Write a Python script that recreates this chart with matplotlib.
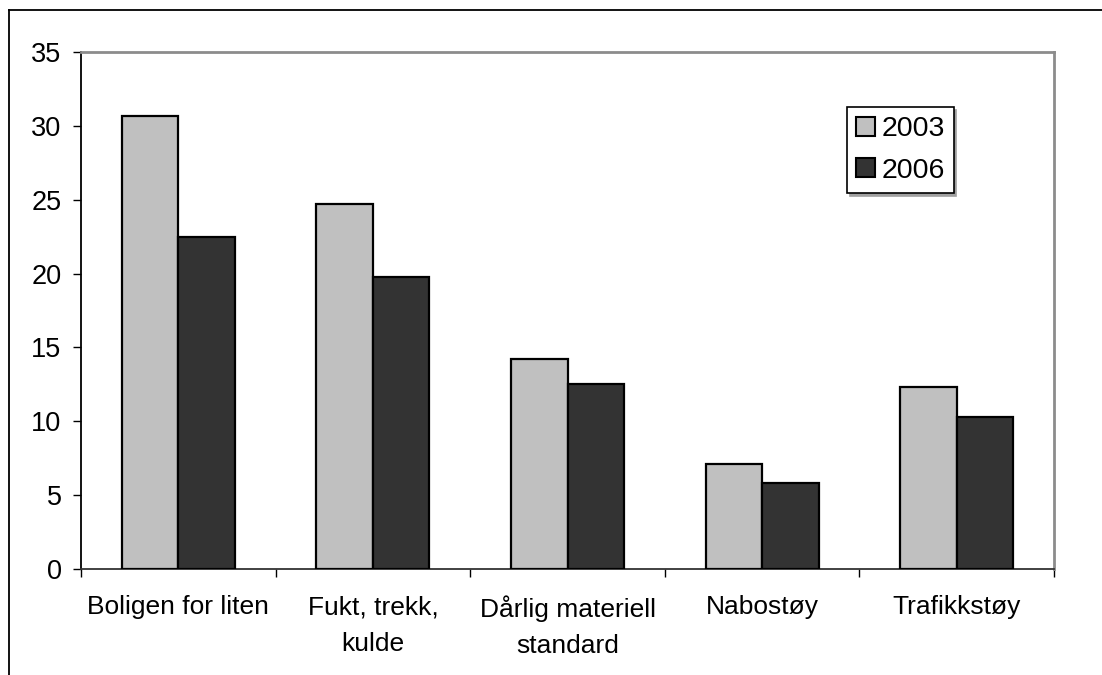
import matplotlib.pyplot as plt
import numpy as np
from matplotlib.lines import Line2D
from matplotlib.patches import Patch

categories = ['Boligen for liten', 'Fukt, trekk,\nkulde', 'Dårlig materiell\nstandard', 'Nabostøy', 'Trafikkstøy']
series_names = ['2003', '2006']
values_2003 = [30.7, 24.7, 14.2, 7.1, 12.3]
values_2006 = [22.5, 19.8, 12.5, 5.8, 10.3]
y_ticks = [0, 5, 10, 15, 20, 25, 30, 35]


def main():
    plt.rcParams['font.family'] = ['Liberation Sans', 'DejaVu Sans']

    fig = plt.figure(figsize=(11.02, 6.75), dpi=100)
    ax = fig.add_axes([81 / 1102, 1 - 569 / 675, (1054 - 81) / 1102, (569 - 52) / 675])

    # outer chart border (only left and top visible)
    fig.add_artist(Line2D([9 / 1102, 9 / 1102], [0, 1 - 10 / 675], transform=fig.transFigure,
                          color='black', linewidth=1.3))
    fig.add_artist(Line2D([9 / 1102, 1], [1 - 10 / 675, 1 - 10 / 675], transform=fig.transFigure,
                          color='black', linewidth=1.3))

    x = np.arange(len(categories))
    width = 0.29
    ax.bar(x - width / 2, values_2003, width, color='#c0c0c0', edgecolor='black', linewidth=1.6,
           label=series_names[0], zorder=3)
    ax.bar(x + width / 2, values_2006, width, color='#333333', edgecolor='black', linewidth=1.6,
           label=series_names[1], zorder=3)

    ax.set_xlim(-0.5, len(categories) - 0.5)
    ax.set_ylim(0, 35)
    ax.set_yticks(y_ticks)
    ax.tick_params(axis='y', direction='out', length=6, width=1, labelsize=19.5, pad=8)

    ax.set_xticks(x)
    ax.set_xticklabels(categories, fontsize=19, linespacing=1.65)
    ax.tick_params(axis='x', length=0, pad=19)
    ax.set_xticks(np.arange(len(categories) + 1) - 0.5, minor=True)
    ax.tick_params(axis='x', which='minor', direction='out', length=6, width=1)

    for side in ['top', 'right']:
        ax.spines[side].set_color('#8c8c8c')
        ax.spines[side].set_linewidth(2)
    ax.spines['left'].set_color('black')
    ax.spines['left'].set_linewidth(1.3)
    ax.spines['bottom'].set_color('#333333')
    ax.spines['bottom'].set_linewidth(1.3)

    handles = [Patch(facecolor='#c0c0c0', edgecolor='black', linewidth=1.5),
               Patch(facecolor='#333333', edgecolor='black', linewidth=1.5)]
    leg = ax.legend(handles, series_names, loc='upper left',
                    bbox_to_anchor=((847 - 81) / (1054 - 81), (569 - 107) / (569 - 52)),
                    fontsize=20.5, frameon=True, fancybox=False,
                    shadow={'color': '#a0a0a0', 'alpha': 1, 'ox': 2, 'oy': -2},
                    handlelength=0.66, handleheight=0.66, handletextpad=0.22,
                    borderpad=0.32, labelspacing=0.55, borderaxespad=0)
    leg.get_frame().set_edgecolor('black')
    leg.get_frame().set_linewidth(1.2)

    fig.savefig('out.png', dpi=100)


if __name__ == '__main__':
    main()
